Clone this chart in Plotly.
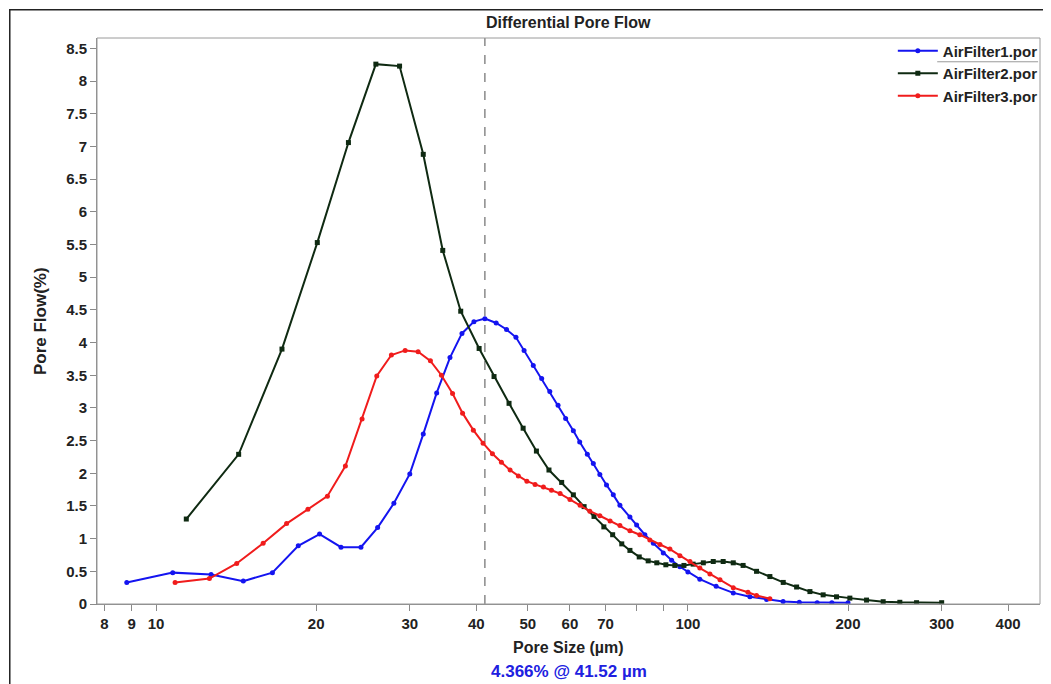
import plotly.graph_objects as go

# ---- data ----
f1_size = [8.81, 10.75, 12.69, 14.59, 16.55, 18.51, 20.3, 22.27, 24.28, 26.1, 28.0, 30.0, 31.8,
           33.7, 35.7, 37.6, 39.6, 41.52, 43.6, 45.6, 47.5, 49.2, 51.2, 53.1, 55.0, 57.0, 58.9,
           60.9, 62.6, 64.7, 66.4, 68.3, 70.3, 72.4, 74.5, 77.8, 80.1, 83.0, 86.1, 89.9, 93.2,
           96.6, 100.0, 105.3, 113.0, 121.7, 130.8, 140.6, 151.0, 162.0, 175.0, 186.5, 200.0]
f1_flow = [0.33, 0.48, 0.45, 0.35, 0.48, 0.89, 1.07, 0.87, 0.87, 1.17, 1.54, 1.99, 2.60,
           3.23, 3.77, 4.14, 4.32, 4.366, 4.30, 4.20, 4.08, 3.88, 3.65, 3.45, 3.25, 3.04, 2.84,
           2.65, 2.48, 2.29, 2.15, 1.98, 1.82, 1.67, 1.51, 1.33, 1.21, 1.06, 0.93, 0.78, 0.67,
           0.57, 0.49, 0.38, 0.27, 0.17, 0.11, 0.07, 0.04, 0.025, 0.02, 0.02, 0.02]

f2_size = [11.4, 14.3, 17.25, 20.1, 23.0, 25.9, 28.7, 31.8, 34.6, 37.4, 40.5, 43.2, 46.1, 49.0,
           51.9, 54.8, 57.9, 60.9, 63.8, 66.6, 69.5, 72.2, 75.1, 77.8, 81.0, 84.2, 87.4, 90.9,
           94.5, 98.3, 102.3, 106.9, 111.6, 116.5, 121.7, 127.0, 134.6, 142.6, 151.1, 160.1,
           169.6, 179.6, 190.3, 201.6, 216.7, 232.9, 250.3, 269.1, 300.0]
f2_flow = [1.30, 2.29, 3.90, 5.53, 7.06, 8.26, 8.23, 6.88, 5.41, 4.48, 3.91, 3.48, 3.07, 2.69,
           2.34, 2.05, 1.86, 1.67, 1.49, 1.34, 1.18, 1.06, 0.92, 0.82, 0.72, 0.66, 0.63, 0.60,
           0.59, 0.59, 0.61, 0.63, 0.65, 0.65, 0.63, 0.59, 0.50, 0.42, 0.33, 0.26,
           0.19, 0.14, 0.11, 0.09, 0.06, 0.035, 0.026, 0.02, 0.02]

f3_size = [10.86, 12.6, 14.18, 15.9, 17.6, 19.3, 21.0, 22.7, 24.4, 26.0, 27.7, 29.4, 31.1, 32.8,
           34.4, 36.1, 37.7, 39.5, 41.2, 42.9, 44.6, 46.3, 48.0, 49.8, 51.6, 53.5, 55.4, 57.5,
           60.0, 62.7, 65.4, 68.3, 71.4, 74.5, 77.8, 81.2, 84.8, 88.6, 92.5, 96.6, 100.9, 105.3,
           110.0, 114.9, 121.7, 129.7, 134.6, 142.6]
f3_flow = [0.33, 0.39, 0.62, 0.93, 1.23, 1.45, 1.65, 2.11, 2.83, 3.49, 3.81, 3.88, 3.86, 3.72,
           3.50, 3.22, 2.92, 2.66, 2.46, 2.30, 2.17, 2.05, 1.96, 1.88, 1.83, 1.79, 1.74, 1.69,
           1.60, 1.51, 1.42, 1.35, 1.27, 1.20, 1.12, 1.06, 0.98, 0.91, 0.84, 0.74, 0.65, 0.55,
           0.46, 0.37, 0.25, 0.18, 0.13, 0.08]

x_tickvals = [8, 9, 10, 20, 30, 40, 50, 60, 70, 80, 90, 100, 200, 300, 400]
x_ticktext = ["8", "9", "10", "20", "30", "40", "50", "60", "70", "", "", "100", "200", "300", "400"]
peak_size = 41.52
peak_flow = 4.366

FONT = "Arial, 'Liberation Sans', sans-serif"

fig = go.Figure()
fig.add_trace(go.Scatter(x=f1_size, y=f1_flow, name="AirFilter1.por", mode="lines+markers",
                         line=dict(color="#1414f0", width=2),
                         marker=dict(symbol="circle", size=5, color="#1414f0")))
fig.add_trace(go.Scatter(x=f2_size, y=f2_flow, name="AirFilter2.por", mode="lines+markers",
                         line=dict(color="#0f2a12", width=2),
                         marker=dict(symbol="square", size=5, color="#0f2a12")))
fig.add_trace(go.Scatter(x=f3_size, y=f3_flow, name="AirFilter3.por", mode="lines+markers",
                         line=dict(color="#f01c1c", width=2),
                         marker=dict(symbol="circle", size=5, color="#f01c1c")))

# dashed vertical line at the peak
fig.add_shape(type="line", xref="x", yref="paper", x0=peak_size, x1=peak_size, y0=0, y1=1,
              line=dict(color="#8a8a8a", width=1.5, dash="dash"), layer="below")
# plot frame
fig.add_shape(type="rect", xref="paper", yref="paper", x0=0, x1=1, y0=0, y1=1,
              line=dict(color="#9a9a9a", width=1))
# outer border
fig.add_shape(type="rect", xref="paper", yref="paper", x0=-0.0925, x1=1.0074, y0=-0.16, y1=1.050,
              line=dict(color="#222222", width=1.5))
# underline under first legend item
fig.add_shape(type="line", xref="paper", yref="paper", x0=0.891, x1=0.998, y0=0.958, y1=0.958,
              line=dict(color="#999999", width=1))

fig.update_layout(
    width=1051, height=684,
    margin=dict(l=89, r=19, t=30, b=88),
    paper_bgcolor="white", plot_bgcolor="white",
    font=dict(family=FONT, color="#222222"),
    showlegend=True,
    legend=dict(x=1.003, xanchor="right", y=1.006, yanchor="top", bgcolor="rgba(0,0,0,0)",
                font=dict(family=FONT, size=15, color="#222222", weight="bold"),
                tracegroupgap=0, itemwidth=40),
    xaxis=dict(type="log", range=[0.889, 2.662], tickvals=x_tickvals, ticktext=x_ticktext,
               showgrid=False, zeroline=False, showline=True, linecolor="#8a8a8a", linewidth=1,
               ticks="outside", ticklen=6, tickcolor="#8a8a8a",
               tickfont=dict(family=FONT, size=15, color="#222222", weight="bold")),
    yaxis=dict(range=[0, 8.66], dtick=0.5, tick0=0,
               showgrid=False, zeroline=False, showline=True, linecolor="#8a8a8a", linewidth=1,
               ticks="outside", ticklen=6, tickcolor="#8a8a8a",
               tickfont=dict(family=FONT, size=15, color="#222222", weight="bold")),
    annotations=[
        dict(text="<b>Differential Pore Flow</b>", xref="paper", yref="paper", x=0.5, y=1.028,
             xanchor="center", yanchor="middle",
             showarrow=False, font=dict(family=FONT, size=16, color="#222222")),
        dict(text="<b>Pore Size (µm)</b>", xref="paper", yref="paper", x=0.5, y=-0.0777,
             xanchor="center", yanchor="middle",
             showarrow=False, font=dict(family=FONT, size=16, color="#222222")),
        dict(text="<b>Pore Flow(%)</b>", xref="paper", yref="paper", x=-0.0604, y=0.5,
             xanchor="center", yanchor="middle",
             textangle=-90, showarrow=False, font=dict(family=FONT, size=17, color="#222222")),
        dict(text=f"<b>{peak_flow}% @ {peak_size} µm</b>", xref="paper", yref="paper", x=0.5,
             y=-0.120, xanchor="center", yanchor="middle",
             showarrow=False, font=dict(family=FONT, size=17, color="#2020e0")),
    ],
)

fig.write_html("out.html")
